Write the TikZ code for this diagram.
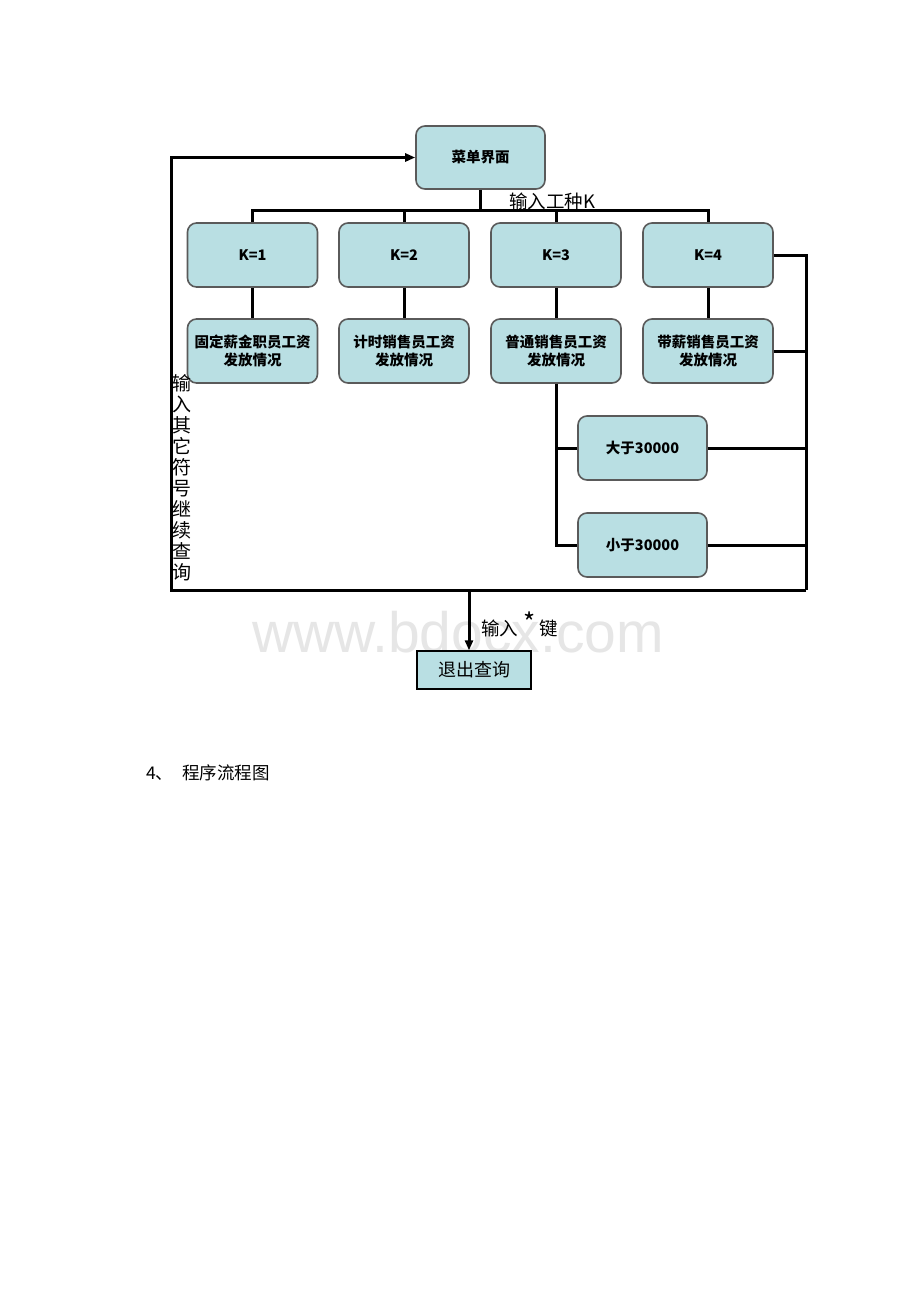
\documentclass[tikz,border=0pt]{standalone}
\usepackage{fontspec}
\setmainfont{Liberation Sans}
\newfontfamily\cjk{Noto Sans CJK SC}
\usetikzlibrary{arrows.meta}
\definecolor{boxfill}{HTML}{B9DFE3}
\definecolor{boxline}{HTML}{5A5A5A}
\definecolor{wmark}{HTML}{E6E6E6}
\tikzset{
  rbox/.style={draw=boxline,line width=1.6pt,fill=boxfill,rounded corners=9pt,
    minimum width=130pt,minimum height=64pt,inner sep=0pt,align=center,
    font=\cjk\bfseries\fontsize{14.5}{18}\selectfont},
  sbox/.style={draw=black,line width=1.4pt,fill=boxfill,
    minimum width=114pt,minimum height=38pt,inner sep=0pt,
    font=\cjk\fontsize{18}{20}\selectfont},
  conn/.style={draw=black,line width=3pt},
  arr/.style={conn,-{Triangle[length=10pt,width=8pt]}},
  lbl/.style={font=\cjk\fontsize{18.5}{20}\selectfont,inner sep=0pt}
}
\begin{document}
\begin{tikzpicture}[x=1pt,y=-1pt]
\useasboundingbox[fill=white] (0,0) rectangle (920,1302);
\node[text=wmark,font=\fontsize{57}{60}\selectfont,inner sep=0pt] (wm) at (458,632) {www.bdocx.com};
% boxes
\node[rbox,minimum width=129pt,minimum height=63pt] (menu) at (480.5,157.5) {菜单界面};
\node[rbox] (k1) at (252.5,255) {K=1};
\node[rbox] (k2) at (404,255) {K=2};
\node[rbox] (k3) at (556,255) {K=3};
\node[rbox] (k4) at (708,255) {K=4};
\node[rbox] (d1) at (252.5,351) {固定薪金职员工资\\发放情况};
\node[rbox] (d2) at (404,351) {计时销售员工资\\发放情况};
\node[rbox] (d3) at (556,351) {普通销售员工资\\发放情况};
\node[rbox] (d4) at (708,351) {带薪销售员工资\\发放情况};
\node[rbox,minimum width=129pt] (gt) at (642.5,448) {大于30000};
\node[rbox,minimum width=129pt] (lt) at (642.5,545) {小于30000};
\node[sbox] (exit) at (474,670) {退出查询};
% coordinates
\coordinate (rb) at (806,590);
\coordinate (lb) at (171,590);
\coordinate (ea) at (469,590);
% connectors
\draw[conn] (menu.south) -- ++(0,22);
\draw[conn] (k1.north) -- ++(0,-12) -| (k4.north);
\draw[conn] (k2.north) -- ++(0,-12);
\draw[conn] (k3.north) -- ++(0,-12);
\draw[conn] (k1) -- (d1);
\draw[conn] (k2) -- (d2);
\draw[conn] (k3) -- (d3);
\draw[conn] (k4) -- (d4);
\draw[conn] (d3.south) |- (gt.west);
\draw[conn] (d3.south) |- (lt.west);
\draw[conn] (k4.east) -| (rb);
\draw[conn] (d4.east) -- (d4.east -| rb);
\draw[conn] (gt.east) -- (gt.east -| rb);
\draw[conn] (lt.east) -- (lt.east -| rb);
\draw[arr] (rb) -- (lb) |- (menu.west);
\draw[arr] (ea) -- (ea |- exit.north);
% labels
\node[lbl,anchor=west] (lk) at (509,201) {输入工种K};
\node[lbl,align=center,font=\cjk\fontsize{19}{21}\selectfont,anchor=north] (lo) at (182,374)
  {输\\入\\其\\它\\符\\号\\继\\续\\查\\询};
\node[lbl,anchor=west] (ls) at (481,624) {输入\hspace{5pt}\raisebox{3pt}{\fontsize{26}{26}\selectfont *}\hspace{4pt}键};
\node[font=\cjk\fontsize{17.5}{19}\selectfont,anchor=west,inner sep=0pt] (cap) at (146,773) {4、\hspace{9pt}程序流程图};
\end{tikzpicture}
\end{document}
